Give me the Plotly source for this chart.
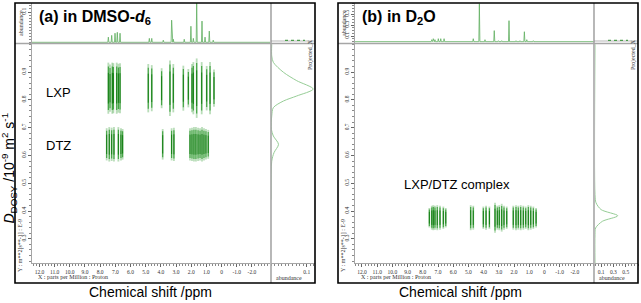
import plotly.graph_objects as go

W, H = 641, 303

# ---------------- data ----------------
ppm_ticks = [12, 11, 10, 9, 8, 7, 6, 5, 4, 3, 2, 1, 0, -1, -2]
ppm_tick_text = ["12.0", "11.0", "10.0", "9.0", "8.0", "7.0", "6.0", "5.0",
                 "4.0", "3.0", "2.0", "1.0", "0", "-1.0", "-2.0"]
d_ticks = [0.3, 0.4, 0.5, 0.6, 0.7, 0.8, 0.9]
d_tick_text = ["0.3", "0.4", "0.5", "0.6", "0.7", "0.8", "0.9"]

# 1H spectrum on top of panel (a), DMSO-d6
spec_a_ppm = [7.46, 7.24, 7.02, 6.87, 6.69, 4.76, 4.60, 3.84, 3.29, 3.18,
              2.46, 2.02, 1.86, 1.64, 1.29, 1.09, 0.81, 0.55]
spec_a_abund = [0.017, 0.023, 0.030, 0.033, 0.030, 0.013, 0.013, 0.007, 0.073, 0.010,
                0.010, 0.053, 0.013, 0.129, 0.070, 0.017, 0.037, 0.007]

# 1H spectrum on top of panel (b), D2O
spec_b_ppm = [7.41, 7.31, 7.20, 6.98, 6.82, 6.60, 4.68, 4.28, 3.91, 3.30,
              3.03, 2.81, 2.33, 1.87, 1.61, 1.32, 1.16, 0.73]
spec_b_abund = [0.036, 0.054, 0.036, 0.054, 0.054, 0.054, 0.054, 0.687, 0.036, 0.20,
                0.018, 0.018, 0.38, 0.018, 0.018, 0.18, 0.036, 0.018]

# DOSY cross peaks, panel (a): LXP
lxp_D = 0.842
lxp_ppm = [7.46, 7.35, 7.20, 7.13, 6.91, 6.80, 6.69, 4.83, 4.60, 3.95, 3.40,
           3.18, 2.52, 2.19, 1.95, 1.86, 1.64, 1.31, 0.98, 0.76, 0.50]
lxp_spread = [0.092, 0.085, 0.092, 0.090, 0.092, 0.088, 0.090, 0.087, 0.083, 0.072, 0.100,
              0.087, 0.081, 0.069, 0.087, 0.094, 0.107, 0.094, 0.080, 0.094, 0.067]

# DOSY cross peaks, panel (a): DTZ
dtz_D = 0.640
dtz_ppm = [7.57, 7.40, 7.24, 7.09, 6.80, 6.63, 6.52, 3.88, 3.29, 3.14,
           2.08, 1.95, 1.82, 1.69, 1.55, 1.42, 1.29, 1.16, 1.03, 0.88]
dtz_spread = [0.058, 0.062, 0.060, 0.062, 0.062, 0.058, 0.055, 0.055, 0.058, 0.060,
              0.058, 0.060, 0.062, 0.062, 0.060, 0.058, 0.062, 0.058, 0.055, 0.052]

# DOSY cross peaks, panel (b): LXP/DTZ complex
cpx_D = 0.376
cpx_ppm = [7.57, 7.41, 7.31, 7.20, 7.05, 6.87, 6.65, 6.49, 4.85, 4.68, 4.02, 3.84,
           3.62, 3.25, 3.10, 2.97, 2.81, 2.66, 2.48, 2.05, 1.87, 1.72, 1.56, 1.39,
           1.23, 1.06, 0.90, 0.73, 0.55]
cpx_spread = [0.035, 0.043, 0.045, 0.043, 0.045, 0.043, 0.040, 0.035, 0.045, 0.043, 0.040, 0.043,
              0.040, 0.054, 0.043, 0.045, 0.050, 0.043, 0.040, 0.043, 0.045, 0.043, 0.045, 0.043,
              0.040, 0.045, 0.043, 0.040, 0.035]

# F1 projections (right strips)
proj_a_D = [1.0, 0.958, 0.935, 0.899, 0.869, 0.839, 0.814, 0.796, 0.772, 0.742,
            0.694, 0.670, 0.640, 0.610, 0.579, 0.441]
proj_a_abund = [0.002, 0.002, 0.0065, 0.035, 0.072, 0.118, 0.072, 0.035, 0.0065, 0.002,
                0.001, 0.0065, 0.021, 0.0084, 0.002, 0.0]
proj_b_D = [1.0, 0.459, 0.430, 0.405, 0.383, 0.363, 0.339, 0.315, 0.213]
proj_b_abund = [0.0, 0.0, 0.016, 0.10, 0.37, 0.12, 0.01, 0.0, 0.0]

# ---------------- helpers ----------------
def px(x):
    return x / W

def py(y):
    return 1 - y / H

GRAY = "#a6a6a6"
SPEC_GREEN = "rgb(95,175,95)"
PROJ_GREEN = "rgb(150,205,150)"
SERIF = "Liberation Serif"
SANS = "Liberation Sans"
SMALL = 6

fig = go.Figure()

def spectrum_trace(ppms, ab, xr, xa, ya):
    pairs = sorted(zip(ppms, ab), key=lambda t: -t[0])
    xs, ys = [xr[0]], [0]
    for p, h in pairs:
        xs += [p + 0.035, p, p - 0.035]
        ys += [0, h, 0]
    xs.append(xr[1]); ys.append(0)
    fig.add_trace(go.Scatter(x=xs, y=ys, mode="lines", xaxis=xa, yaxis=ya,
                             line=dict(color=SPEC_GREEN, width=0.8),
                             hoverinfo="skip", showlegend=False))

def spots(ppms, spreads, center, xa, ya):
    layers = [(1.0, 1.8, "rgba(100,180,100,0.45)"),
              (0.85, 1.1, "rgba(20,140,20,0.75)"),
              (0.6, 0.7, "rgb(0,110,0)")]
    for frac, w, col in layers:
        xs, ys = [], []
        for p, s in zip(ppms, spreads):
            xs += [p, p, None]
            ys += [center - s * frac, center + s * frac, None]
        fig.add_trace(go.Scatter(x=xs, y=ys, mode="lines", xaxis=xa, yaxis=ya,
                                 line=dict(color=col, width=w),
                                 hoverinfo="skip", showlegend=False))

def projection(D, ab, xa, ya):
    fig.add_trace(go.Scatter(x=ab, y=D, mode="lines", xaxis=xa, yaxis=ya,
                             line=dict(color=PROJ_GREEN, width=1, shape="spline", smoothing=0.8),
                             hoverinfo="skip", showlegend=False))

xr_a = [12.49, -3.19]
xr_b = [12.46, -3.26]
yr = [0.213, 1.001]

spectrum_trace(spec_a_ppm, spec_a_abund, xr_a, "x2", "y2")
spectrum_trace(spec_b_ppm, spec_b_abund, xr_b, "x5", "y5")
spots(lxp_ppm, lxp_spread, lxp_D, "x", "y")
spots(dtz_ppm, dtz_spread, dtz_D, "x", "y")
spots(cpx_ppm, cpx_spread, cpx_D, "x4", "y4")
projection(proj_a_D, proj_a_abund, "x3", "y3")
projection(proj_b_D, proj_b_abund, "x6", "y6")

tickfont = dict(family=SERIF, size=5.5, color="#333")

def main_x(dom, rng, anchor):
    return dict(domain=dom, range=rng, anchor=anchor, tickmode="array",
                tickvals=ppm_ticks, ticktext=ppm_tick_text, ticks="outside",
                ticklen=3, tickwidth=0.6, tickcolor="#666", showline=True,
                linecolor=GRAY, linewidth=1.2, tickfont=tickfont,
                minor=dict(tickmode="linear", tick0=0, dtick=0.2, ticks="outside",
                           ticklen=1.5, tickcolor="#888", tickwidth=0.5),
                showgrid=False, zeroline=False, fixedrange=True)

def main_y(dom, anchor):
    return dict(domain=dom, range=yr, anchor=anchor, tickmode="array",
                tickvals=d_ticks, ticktext=d_tick_text, tickangle=-90, ticks="outside",
                ticklen=3, tickwidth=0.6, tickcolor="#666", showline=True,
                linecolor=GRAY, linewidth=1.2, tickfont=tickfont,
                minor=dict(tickmode="linear", tick0=0, dtick=0.02, ticks="outside",
                           ticklen=1.5, tickcolor="#888", tickwidth=0.5),
                showgrid=False, zeroline=False, fixedrange=True)

def top_y(dom, rng, anchor, tv, minor_dt):
    return dict(domain=dom, range=rng, anchor=anchor, tickmode="array",
                tickvals=tv, ticktext=[str(v) for v in tv], tickangle=-90,
                ticks="outside", ticklen=3, tickwidth=0.6, tickcolor="#666",
                showline=True, linecolor=GRAY, linewidth=1.2, tickfont=tickfont,
                minor=dict(tickmode="linear", tick0=0, dtick=minor_dt, ticks="outside",
                           ticklen=1.5, tickcolor="#888", tickwidth=0.5),
                showgrid=False, zeroline=False, fixedrange=True)

def right_x(dom, rng, anchor, tv, minor_dt):
    return dict(domain=dom, range=rng, anchor=anchor, tickmode="array",
                tickvals=tv, ticktext=[str(v) for v in tv], ticks="outside",
                ticklen=3, tickwidth=0.6, tickcolor="#666", showline=True,
                linecolor=GRAY, linewidth=1.2, tickfont=tickfont,
                minor=dict(tickmode="linear", tick0=0, dtick=minor_dt, ticks="outside",
                           ticklen=1.5, tickcolor="#888", tickwidth=0.5),
                showgrid=False, zeroline=False, fixedrange=True)

hidden = dict(visible=False, fixedrange=True)

main_ydom = [py(263), py(44)]
top_ydom = [py(43), py(3)]

layout = dict(
    width=W, height=H, margin=dict(l=0, r=0, t=0, b=0),
    paper_bgcolor="white", plot_bgcolor="rgba(0,0,0,0)",
    showlegend=False, hovermode=False,
    # panel a
    xaxis=main_x([px(32), px(270)], xr_a, "y"),
    yaxis=main_y(main_ydom, "x"),
    xaxis2=dict(hidden, domain=[px(32), px(270)], range=xr_a, anchor="y2"),
    yaxis2=top_y(top_ydom, [-0.0023, 0.1297], "x2", [0.1], 0.01),
    xaxis3=right_x([px(271), px(315)], [0, 0.123], "y3", [0.1], 0.01),
    yaxis3=dict(hidden, domain=main_ydom, range=yr, anchor="x3"),
    # panel b
    xaxis4=main_x([px(355), px(594)], xr_b, "y4"),
    yaxis4=main_y(main_ydom, "x4"),
    xaxis5=dict(hidden, domain=[px(355), px(594)], range=xr_b, anchor="y5"),
    yaxis5=top_y(top_ydom, [-0.024, 0.70], "x5", [0.1, 0.3, 0.5], 0.05),
    xaxis6=right_x([px(595), px(638)], [0, 0.70], "y6", [0.1, 0.3, 0.5], 0.05),
    yaxis6=dict(hidden, domain=main_ydom, range=yr, anchor="x6"),
)
fig.update_layout(**layout)

shapes = []
for (l, r, sep_x) in [(15, 315, 271), (338, 638, 594)]:
    shapes.append(dict(type="line", xref="paper", yref="paper", x0=px(sep_x), x1=px(sep_x),
                       y0=py(283), y1=py(3), line=dict(color=GRAY, width=1.6)))
    shapes.append(dict(type="line", xref="paper", yref="paper", x0=px(l), x1=px(r),
                       y0=py(43.5), y1=py(43.5), line=dict(color=GRAY, width=1.6)))
    shapes.append(dict(type="line", xref="paper", yref="paper", x0=px(sep_x), x1=px(r),
                       y0=py(41), y1=py(41), line=dict(color="#888", width=0.6)))
    shapes.append(dict(type="line", xref="paper", yref="paper", x0=px(sep_x + 14), x1=px(sep_x + 34),
                       y0=py(40.3), y1=py(40.3), line=dict(color="rgb(40,140,40)", width=1, dash="dot")))
    shapes.append(dict(type="rect", xref="paper", yref="paper", x0=px(l), x1=px(r),
                       y0=py(283), y1=py(3), line=dict(color="black", width=1.6)))
fig.update_layout(shapes=shapes)

ann = []
def text(t, x, y, size, xa="left", ya="middle", angle=0, family=SANS, color="black"):
    ann.append(dict(text=t, x=px(x), y=py(y), xref="paper", yref="paper", showarrow=False,
                    xanchor=xa, yanchor=ya, textangle=angle,
                    font=dict(family=family, size=size, color=color)))

text("<b>(a) in DMSO-<i>d</i><sub>6</sub></b>", 37, 17, 16)
text("<b>(b) in D<sub>2</sub>O</b>", 360, 17, 16)
text("LXP", 44, 92, 13)
text("DTZ", 44, 145, 13)
text("LXP/DTZ complex", 402, 185, 13)
text("Chemical shift /ppm", 150, 292, 14, xa="center")
text("Chemical shift /ppm", 460, 292, 14, xa="center")
text("<i>D</i><sub>DOSY</sub> /10<sup>-9</sup> m<sup>2</sup> s<sup>-1</sup>", 9.5, 168, 14,
     xa="center", angle=-90)
for (l, ax, sep_x, r) in [(15, 32, 271, 315), (338, 355, 594, 638)]:
    text("X : parts per Million : Proton", ax + 4, 277, SMALL, family=SERIF, color="#333")
    text("abundance", sep_x + 3, 278, SMALL, family=SERIF, color="#333")
    text("abundance", ax - 11, 23, SMALL, xa="center", angle=-90, family=SERIF, color="#333")
    text("Y : m**2[s**-1] : E-9", ax - 12, 246, SMALL, xa="center", angle=-90, family=SERIF, color="#333")
    text("Projected_X", r - 5, 55, SMALL, xa="center", angle=-90, family=SERIF, color="#333")
fig.update_layout(annotations=ann)

fig.write_html("out.html", config={"displayModeBar": False},
               post_script="document.body.style.margin='0';document.body.style.padding='0';")
